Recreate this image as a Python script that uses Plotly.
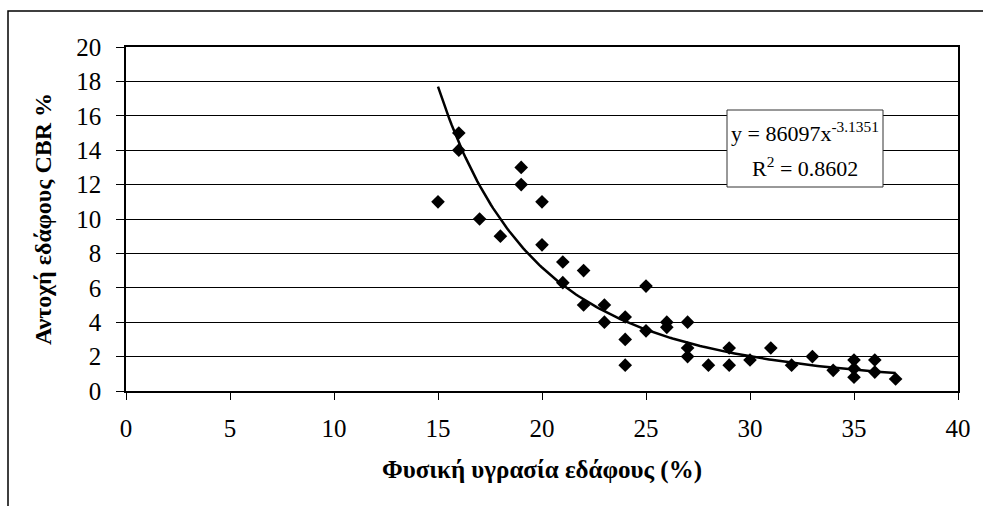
import numpy as np
import plotly.graph_objects as go

# Data
moisture = [15, 16, 16, 17, 18, 19, 19, 20, 20, 21, 21, 22, 22, 23, 23,
            24, 24, 24, 25, 25, 26, 26, 27, 27, 27, 28, 29, 29, 30, 31,
            32, 33, 34, 35, 35, 35, 36, 36, 37]
cbr = [11, 15, 14, 10, 9, 13, 12, 11, 8.5, 7.5, 6.3, 7, 5, 5, 4,
       4.3, 3, 1.5, 6.1, 3.5, 4, 3.7, 4, 2.5, 2, 1.5, 2.5, 1.5, 1.8, 2.5,
       1.5, 2, 1.2, 1.8, 1.3, 0.8, 1.8, 1.1, 0.7]

# Power trendline parameters (as shown in the chart)
coef_a = 86097
coef_b = -3.1351
r2 = 0.8602

x_ticks = [0, 5, 10, 15, 20, 25, 30, 35, 40]
y_ticks = [0, 2, 4, 6, 8, 10, 12, 14, 16, 18, 20]

x_title = "Φυσική υγρασία εδάφους (%)"
y_title = "Αντοχή εδάφους CBR %"

xt = np.linspace(min(moisture), max(moisture), 200)
yt = coef_a * xt ** coef_b

FONT = "'Liberation Serif', 'Times New Roman', serif"

fig = go.Figure()
fig.add_trace(go.Scatter(x=xt, y=yt, mode="lines",
                         line=dict(color="black", width=2.5), hoverinfo="skip"))
fig.add_trace(go.Scatter(x=moisture, y=cbr, mode="markers",
                         marker=dict(symbol="diamond", size=10.5, color="black")))

# plot area geometry (pixels)
L, R, T, B = 126, 958, 47, 391
W, H = R - L, B - T

def px(x):
    return (x - L) / W

def py(y):
    return (B - y) / H

shapes = [
    dict(type="rect", xref="paper", yref="paper",
         x0=px(8), x1=px(1000), y0=py(530), y1=py(11),
         line=dict(color="black", width=1.5), fillcolor="rgba(0,0,0,0)", layer="below"),
    dict(type="rect", xref="paper", yref="paper",
         x0=px(727), x1=px(883), y0=py(187), y1=py(110),
         line=dict(color="#333", width=1), fillcolor="white", layer="above"),
]

annotations = [
    dict(xref="paper", yref="paper", x=px(805), y=py(132),
         text=f"y = {coef_a}x<sup>{coef_b}</sup>", showarrow=False,
         font=dict(family=FONT, size=22, color="black"), xanchor="center", yanchor="middle"),
    dict(xref="paper", yref="paper", x=px(805), y=py(167),
         text=f"R<sup>2</sup> = {r2}", showarrow=False,
         font=dict(family=FONT, size=22, color="black"), xanchor="center", yanchor="middle"),
]

fig.update_layout(
    width=983, height=506,
    margin=dict(l=L, r=983 - R, t=T, b=506 - B),
    paper_bgcolor="white", plot_bgcolor="white",
    showlegend=False,
    shapes=shapes, annotations=annotations,
    font=dict(family=FONT, color="black"),
    xaxis=dict(range=[0, 40], tickvals=x_ticks, ticks="outside", ticklen=7,
               tickcolor="black", showline=True, linecolor="black", linewidth=1.5,
               mirror=True, showgrid=False, zeroline=False, ticklabelstandoff=7,
               tickfont=dict(family=FONT, size=25, color="black"),
               title=dict(text=f"<b>{x_title}</b>", standoff=20,
                          font=dict(family=FONT, size=25, color="black"))),
    yaxis=dict(range=[0, 20], tickvals=y_ticks, ticks="outside", ticklen=8,
               tickcolor="black", showline=True, linecolor="black", linewidth=1.5,
               mirror=True, showgrid=True, gridcolor="black", gridwidth=1,
               zeroline=False, ticklabelstandoff=10,
               tickfont=dict(family=FONT, size=25, color="black"),
               title=dict(text=f"<b>{y_title}</b>", standoff=18,
                          font=dict(family=FONT, size=24, color="black"))),
)

fig.write_html("out.html")
